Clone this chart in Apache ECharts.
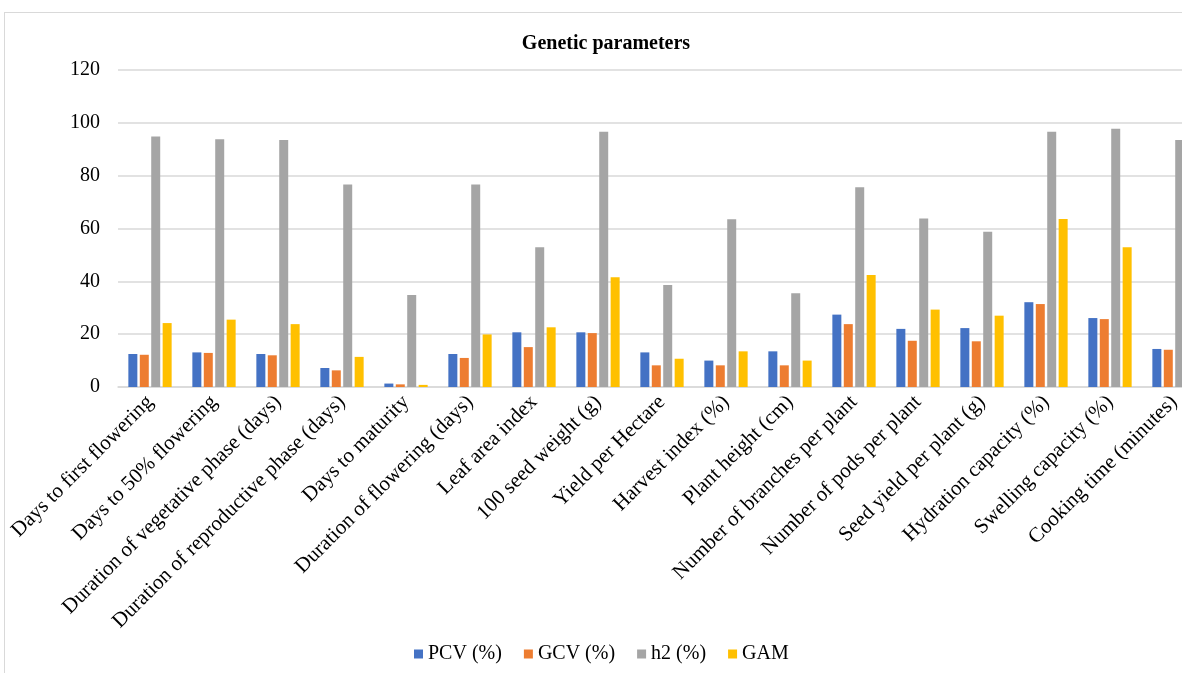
<!DOCTYPE html>
<html><head><meta charset="utf-8">
<script src="https://cdn.jsdelivr.net/npm/echarts@6/dist/echarts.min.js"></script>
<style>
html,body{margin:0;padding:0;background:#fff;overflow:hidden;width:1182px;height:673px;}
#box{position:absolute;left:4px;top:12px;width:1250px;height:680px;border:1px solid #d9d9d9;}
#chart{width:1250px;height:680px;}
</style></head>
<body><div id="box"><div id="chart"></div></div>
<script>
const categories = ["Days to first flowering","Days to 50% flowering","Duration of vegetative phase (days)","Duration of reproductive phase (days)","Days to maturity","Duration of flowering (days)","Leaf area index","100 seed weight (g)","Yield per Hectare","Harvest index (%)","Plant height (cm)","Number of branches per plant","Number of pods per plant","Seed yield per plant (g)","Hydration capacity (%)","Swelling capacity (%)","Cooking time (minutes)"];
const pcv = [12.5,13.1,12.5,7.2,1.3,12.5,20.7,20.7,13.1,10.0,13.5,27.4,22.0,22.3,32.1,26.1,14.4];
const gcv = [12.2,12.9,12.0,6.3,1.0,11.0,15.1,20.4,8.2,8.2,8.2,23.8,17.5,17.3,31.4,25.7,14.1];
const h2 = [94.8,93.8,93.5,76.7,34.8,76.7,52.9,96.6,38.6,63.5,35.5,75.6,63.8,58.8,96.6,97.8,93.5];
const gam = [24.2,25.5,23.8,11.4,0.8,19.9,22.6,41.5,10.7,13.5,10.0,42.4,29.3,27.0,63.6,52.9,28.0];
const seriesNames = ["PCV (%)","GCV (%)","h2 (%)","GAM"];
const colors = ["#4472c4","#ed7d31","#a5a5a5","#ffc000"];
const yTicks = {min:0,max:120,interval:20};

const font = "'Liberation Serif','Times New Roman',serif";
const chart = echarts.init(document.getElementById('chart'));
const data = [pcv,gcv,h2,gam];
chart.setOption({
  animation:false,
  color:colors,
  title:{text:"Genetic parameters",left:596,top:16,textAlign:'center',
    textStyle:{fontFamily:font,fontSize:20,fontWeight:'bold',color:'#000'}},
  legend:{top:626,left:404,itemWidth:9,itemHeight:9,itemGap:22,icon:'rect',
    textStyle:{fontFamily:font,fontSize:20,color:'#000'},data:seriesNames},
  grid:{left:113,top:57,width:1088,height:317,containLabel:false},
  xAxis:{type:'category',data:categories,
    axisLine:{lineStyle:{color:'#d9d9d9',width:1.5}},axisTick:{show:false},
    axisLabel:{rotate:45,interval:0,margin:12,fontFamily:font,fontSize:21,color:'#000'}},
  yAxis:{type:'value',min:yTicks.min,max:yTicks.max,interval:yTicks.interval,
    axisLine:{show:false},axisTick:{show:false},
    splitLine:{lineStyle:{color:'#d9d9d9',width:1.5}},
    axisLabel:{margin:18,fontFamily:font,fontSize:20,color:'#000'}},
  series:seriesNames.map((n,i)=>({name:n,type:'bar',data:data[i],barWidth:9,barGap:'27%',barCategoryGap:'30%'}))
});
</script></body></html>
